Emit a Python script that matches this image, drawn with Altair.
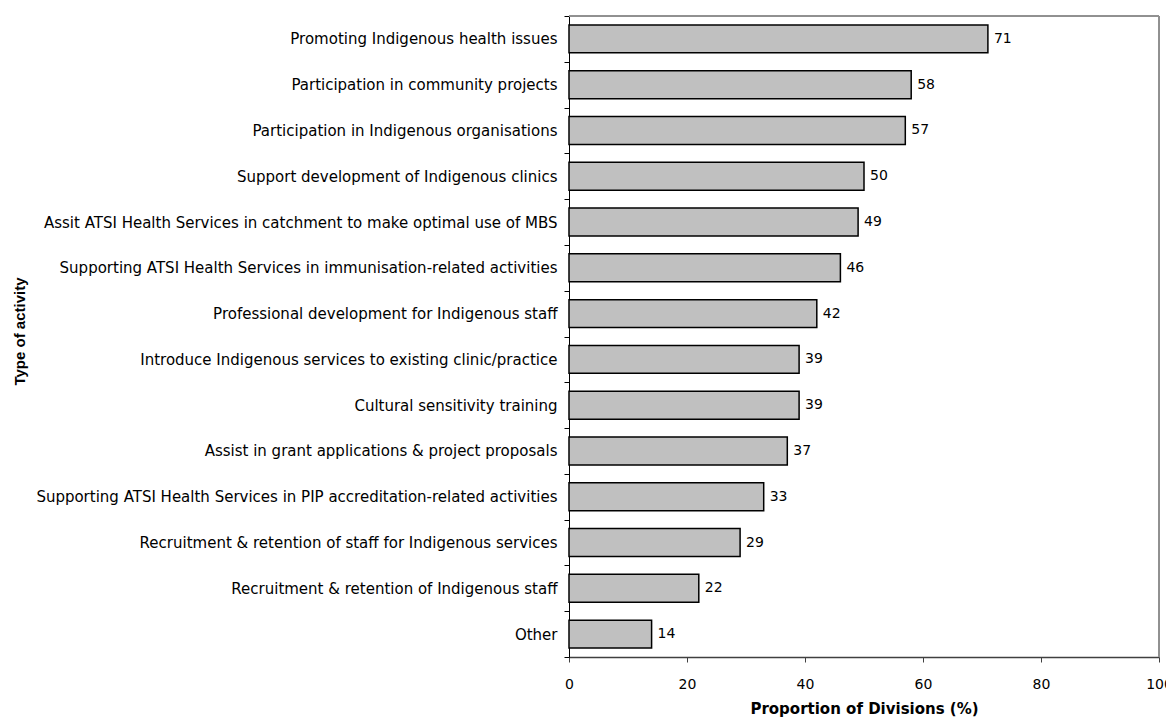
import altair as alt
import pandas as pd

activities = [
    "Promoting Indigenous health issues",
    "Participation in community projects",
    "Participation in Indigenous organisations",
    "Support development of Indigenous clinics",
    "Assit ATSI Health Services in catchment to make optimal use of MBS",
    "Supporting ATSI Health Services in immunisation-related activities",
    "Professional development for Indigenous staff",
    "Introduce Indigenous services to existing clinic/practice",
    "Cultural sensitivity training",
    "Assist in grant applications & project proposals",
    "Supporting ATSI Health Services in PIP accreditation-related activities",
    "Recruitment & retention of staff for Indigenous services",
    "Recruitment & retention of Indigenous staff ",
    "Other",
]
values = [71, 58, 57, 50, 49, 46, 42, 39, 39, 37, 33, 29, 22, 14]
x_ticks = [0, 20, 40, 60, 80, 100]

df = pd.DataFrame({"activity": activities, "value": values})

W, H = 590, 641
FONT = "DejaVu Sans"

y_enc = alt.Y(
    "activity:N",
    sort=activities,
    scale=alt.Scale(paddingInner=0, paddingOuter=0),
    axis=alt.Axis(
        title="Type of activity",
        titleFont="Liberation Sans",
        titleFontSize=15,
        titleFontWeight="bold",
        titleColor="black",
        titleX=-550,
        titleY=315,
        titleAngle=-90,
        titleAlign="center",
        titleBaseline="middle",
        labelFont=FONT,
        labelFontSize=15,
        labelColor="black",
        labelPadding=7,
        labelLimit=700,
        tickSize=5,
        tickColor="black",
        tickBand="extent",
        domainColor="black",
        grid=False,
    ),
)

x_enc = alt.X(
    "value:Q",
    scale=alt.Scale(domain=[0, 100], nice=False),
    axis=alt.Axis(
        values=x_ticks,
        title="Proportion of Divisions (%)",
        titleFont=FONT,
        titleFontSize=15,
        titleFontWeight="bold",
        titleColor="black",
        titleY=51,
        titleBaseline="middle",
        labelFont=FONT,
        labelFontSize=14,
        labelColor="black",
        labelPadding=15,
        labelFlush=False,
        tickSize=5,
        tickColor="#404040",
        domainColor="#404040",
        domainWidth=1.5,
        grid=False,
    ),
)

bars = alt.Chart(df).mark_bar(
    color="#c0c0c0", stroke="black", strokeWidth=1.5,
    height=alt.RelativeBandSize(0.61),
).encode(x=x_enc, y=y_enc)

labels = alt.Chart(df).mark_text(
    align="left", baseline="middle", dx=6, font=FONT, fontSize=14, color="black"
).encode(
    x=alt.X("value:Q"),
    y=alt.Y("activity:N", sort=activities),
    text=alt.Text("value:Q"),
)

top_border = alt.Chart(df).mark_rule(color="#909090", strokeWidth=1).encode(
    x=alt.value(0), x2=alt.value(W), y=alt.value(0)
)
right_border = alt.Chart(df).mark_rule(color="#909090", strokeWidth=1).encode(
    x=alt.value(W), y=alt.value(0), y2=alt.value(H)
)

chart = (
    alt.layer(top_border, right_border, bars, labels)
    .properties(
        width=W,
        height=H,
        autosize=alt.AutoSizeParams(type="none"),
        padding={"left": 561, "top": 8, "right": 7, "bottom": 62},
    )
    .configure_view(stroke="transparent")
    .configure(background="white")
)

chart.save("out.html", embed_options={"renderer": "svg", "actions": False})
